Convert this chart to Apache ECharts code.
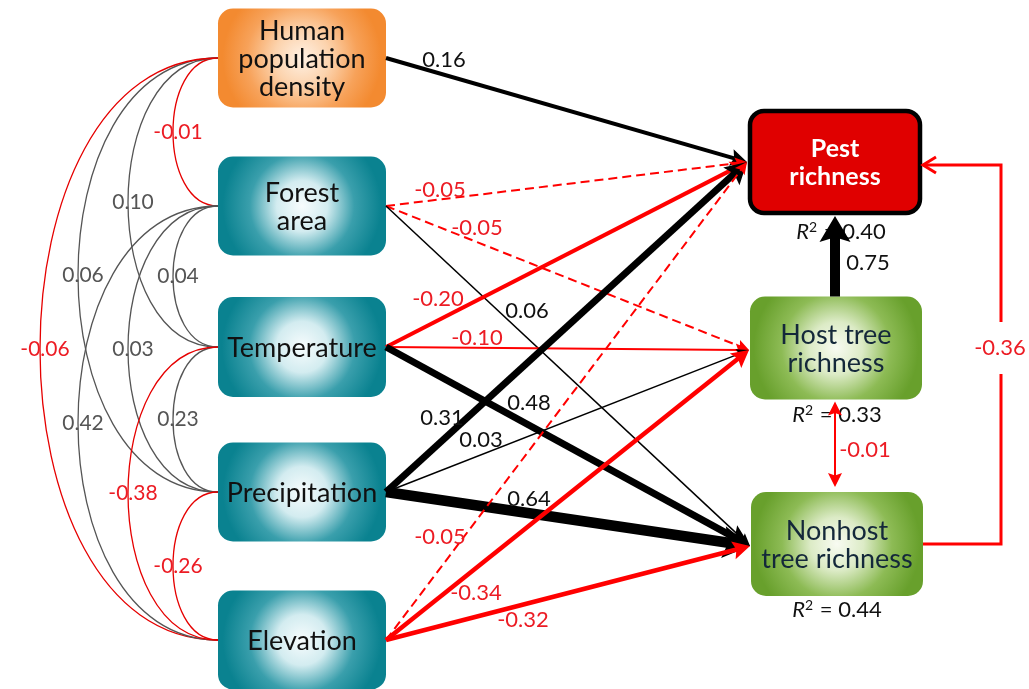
<!DOCTYPE html>
<html>
<head>
<meta charset="utf-8">
<script src="https://cdn.jsdelivr.net/npm/echarts@6/dist/echarts.min.js"></script>
<style>
  html, body { margin: 0; padding: 0; background: #ffffff; }
  #chart { width: 1029px; height: 689px; }
</style>
</head>
<body>
<div id="chart"></div>
<script>
// ---- Model variables ----
const nodeNames = ['Human population density', 'Forest area', 'Temperature', 'Precipitation', 'Elevation',
                   'Pest richness', 'Host tree richness', 'Nonhost tree richness'];
const nodeTexts = ['Human\npopulation\ndensity', 'Forest\narea', 'Temperature', 'Precipitation', 'Elevation',
                   'Pest\nrichness', 'Host tree\nrichness', 'Nonhost\ntree richness'];
const nodeGroups = ['human', 'environment', 'environment', 'environment', 'environment', 'pest', 'trees', 'trees'];

// ---- Explained variance of the responses ----
const r2Nodes = ['Pest richness', 'Host tree richness', 'Nonhost tree richness'];
const r2Values = [0.40, 0.33, 0.44];

// ---- Directed paths (standardised coefficients) ----
const pathFrom = ['Human population density', 'Forest area', 'Forest area', 'Forest area',
                  'Temperature', 'Temperature', 'Temperature',
                  'Precipitation', 'Precipitation', 'Precipitation',
                  'Elevation', 'Elevation', 'Elevation',
                  'Host tree richness', 'Nonhost tree richness'];
const pathTo = ['Pest richness', 'Pest richness', 'Host tree richness', 'Nonhost tree richness',
                'Pest richness', 'Host tree richness', 'Nonhost tree richness',
                'Pest richness', 'Host tree richness', 'Nonhost tree richness',
                'Pest richness', 'Host tree richness', 'Nonhost tree richness',
                'Pest richness', 'Pest richness'];
const pathCoef = [0.16, -0.05, -0.05, 0.06,
                  -0.20, -0.10, 0.48,
                  0.31, 0.03, 0.64,
                  -0.05, -0.34, -0.32,
                  0.75, -0.36];
const pathNonSignificant = [false, true, true, false,
                            false, false, false,
                            false, false, false,
                            true, false, false,
                            false, false];

// ---- Correlations between exogenous variables ----
const corrA = ['Human population density', 'Human population density', 'Human population density', 'Human population density',
               'Forest area', 'Forest area', 'Forest area',
               'Temperature', 'Temperature', 'Precipitation'];
const corrB = ['Forest area', 'Temperature', 'Precipitation', 'Elevation',
               'Temperature', 'Precipitation', 'Elevation',
               'Precipitation', 'Elevation', 'Elevation'];
const corrCoef = [-0.01, 0.10, 0.06, -0.06,
                  0.04, 0.03, 0.42,
                  0.23, -0.38, -0.26];

// ---- Residual correlation between the tree responses ----
const residA = ['Host tree richness'];
const residB = ['Nonhost tree richness'];
const residCoef = [-0.01];

// ---- Layout (pixel positions on a 1029 x 689 canvas) ----
const boxLayout = {
  'Human population density': { cx: 302, cy: 58, w: 168, h: 99 },
  'Forest area':              { cx: 302, cy: 206, w: 168, h: 99 },
  'Temperature':              { cx: 302, cy: 347, w: 168, h: 100 },
  'Precipitation':            { cx: 302, cy: 492, w: 168, h: 99 },
  'Elevation':                { cx: 302, cy: 640, w: 168, h: 99 },
  'Pest richness':            { cx: 835, cy: 162, w: 174, h: 106 },
  'Host tree richness':       { cx: 836, cy: 348, w: 172, h: 103 },
  'Nonhost tree richness':    { cx: 837, cy: 544, w: 172, h: 104 }
};
const arcBulge = [0, 45, 90, 140, 178];     // leftward reach of a correlation arc by rows spanned
const elbowX = 1001;                          // vertical run of the nonhost -> pest path
const pathWidth = [4, 2, 2, 1.5, 4, 2, 7, 7, 1.5, 10.5, 2, 4.5, 4.5, 10, 3];
const pathLabelAt = [[444, 60], [440, 190], [477, 228], [527, 311],
                     [438, 299], [477, 338], [529, 403],
                     [442, 418], [481, 440], [529, 499],
                     [440, 537], [476, 593], [523, 620],
                     [868, 263], [1000, 348]];
const r2LabelAt = [[841, 232], [837, 415], [837, 610]];

const RED = '#ff0000';
const RED_TEXT = '#ec1c24';
const BLACK = '#000000';
const GRAY = '#555555';
const FONT = 'Lato, "Open Sans", sans-serif';

const fills = {
  human: new echarts.graphic.RadialGradient(0.5, 0.5, 0.8, [
    { offset: 0, color: '#fff1e4' }, { offset: 0.35, color: '#fcd3ad' },
    { offset: 0.7, color: '#f7a25a' }, { offset: 1, color: '#f38a30' }]),
  environment: new echarts.graphic.RadialGradient(0.5, 0.5, 0.8, [
    { offset: 0, color: '#f7fcfd' }, { offset: 0.32, color: '#d3ecf0' },
    { offset: 0.66, color: '#3a9fac' }, { offset: 1, color: '#0a8290' }]),
  trees: new echarts.graphic.RadialGradient(0.5, 0.5, 0.8, [
    { offset: 0, color: '#f8fbf2' }, { offset: 0.32, color: '#dcebc6' },
    { offset: 0.66, color: '#8dbb55' }, { offset: 1, color: '#68a02c' }]),
  pest: '#e00000'
};

function rightPort(n) { const b = boxLayout[n]; return [b.cx + b.w / 2, b.cy]; }
function leftPort(n) { const b = boxLayout[n]; return [b.cx - b.w / 2, b.cy]; }
function topPort(n) { const b = boxLayout[n]; return [b.cx, b.cy - b.h / 2]; }
function bottomPort(n) { const b = boxLayout[n]; return [b.cx, b.cy + b.h / 2]; }

// filled, slightly notched arrow head whose tip sits on `tip`
function arrowHead(api, tip, from, len, hw, color) {
  const t = api.coord(tip), f = api.coord(from);
  const dx = t[0] - f[0], dy = t[1] - f[1], d = Math.hypot(dx, dy);
  const ux = dx / d, uy = dy / d, px = -uy, py = ux;
  const bx = t[0] - ux * len, by = t[1] - uy * len;
  const nx = t[0] - ux * len * 0.82, ny = t[1] - uy * len * 0.82;
  return {
    shape: { type: 'polygon', shape: { points: [t, [bx + px * hw, by + py * hw], [nx, ny], [bx - px * hw, by - py * hw]] },
             style: { fill: color } },
    neck: [t[0] - ux * len * 0.75, t[1] - uy * len * 0.75]
  };
}

const chart = echarts.init(document.getElementById('chart'), null, { renderer: 'canvas' });

const option = {
  animation: false,
  backgroundColor: '#ffffff',
  grid: { left: 0, right: 0, top: 0, bottom: 0 },
  xAxis: { type: 'value', min: 0, max: 1029, show: false },
  yAxis: { type: 'value', min: 0, max: 689, inverse: true, show: false },
  series: [
    // correlation arcs on the left
    {
      type: 'custom',
      name: 'correlations',
      coordinateSystem: 'cartesian2d',
      silent: true,
      data: corrCoef.map((c, i) => [i, 0]),
      renderItem: function (params, api) {
        const i = params.dataIndex;
        const a = leftPort(corrA[i]), b = leftPort(corrB[i]);
        const span = nodeNames.indexOf(corrB[i]) - nodeNames.indexOf(corrA[i]);
        const bulge = arcBulge[span];
        const p1 = api.coord(a), p2 = api.coord(b);
        const cx = p1[0] - bulge * 4 / 3;
        const color = corrCoef[i] < 0 ? '#e60000' : GRAY;
        const midX = p1[0] - bulge, midY = (p1[1] + p2[1]) / 2;
        return {
          type: 'group',
          children: [
            { type: 'bezierCurve',
              shape: { x1: p1[0], y1: p1[1], x2: p2[0], y2: p2[1], cpx1: cx, cpy1: p1[1], cpx2: cx, cpy2: p2[1] },
              style: { stroke: color, lineWidth: 1.3, fill: null } },
            { type: 'text', x: midX + 5, y: midY,
              style: { text: corrCoef[i].toFixed(2), font: '21px ' + FONT, fill: corrCoef[i] < 0 ? RED_TEXT : '#555555',
                       align: 'center', verticalAlign: 'middle' } }
          ]
        };
      }
    },
    // variable boxes
    {
      type: 'custom',
      name: 'variables',
      coordinateSystem: 'cartesian2d',
      silent: true,
      data: nodeNames.map((n, i) => [i, 0]),
      renderItem: function (params, api) {
        const i = params.dataIndex;
        const b = boxLayout[nodeNames[i]];
        const tl = api.coord([b.cx - b.w / 2, b.cy - b.h / 2]);
        const c = api.coord([b.cx, b.cy]);
        const group = nodeGroups[i];
        const isPest = group === 'pest';
        const textColor = isPest ? '#ffffff' : (group === 'trees' ? '#14283a' : '#111111');
        return {
          type: 'group',
          children: [
            { type: 'rect',
              shape: { x: tl[0] + (isPest ? 2 : 0), y: tl[1] + (isPest ? 2 : 0),
                       width: b.w - (isPest ? 4 : 0), height: b.h - (isPest ? 4 : 0), r: isPest ? 14 : 15 },
              style: { fill: fills[group], stroke: isPest ? '#000000' : null, lineWidth: isPest ? 4.5 : 0 } },
            { type: 'text', x: c[0], y: c[1] + 1,
              style: { text: nodeTexts[i], font: (isPest ? 'bold 25px ' : '27px ') + FONT, fill: textColor,
                       align: 'center', verticalAlign: 'middle', lineHeight: isPest ? 28 : 28 } }
          ]
        };
      }
    },
    // R squared of the responses
    {
      type: 'custom',
      name: 'r2',
      coordinateSystem: 'cartesian2d',
      silent: true,
      data: r2Values.map((v, i) => [i, v]),
      renderItem: function (params, api) {
        const i = params.dataIndex;
        const p = api.coord(r2LabelAt[i]);
        return {
          type: 'text', x: p[0], y: p[1],
          style: {
            text: '{i|R}{s|2}{n| = ' + r2Values[i].toFixed(2) + '}',
            align: 'center', verticalAlign: 'middle',
            rich: {
              i: { font: 'italic 22px ' + FONT, fill: '#111111' },
              s: { font: '14px ' + FONT, fill: '#111111', padding: [0, 1, 10, 0] },
              n: { font: '22px ' + FONT, fill: '#111111' }
            }
          }
        };
      }
    },
    // directed paths
    {
      type: 'custom',
      name: 'paths',
      coordinateSystem: 'cartesian2d',
      silent: true,
      data: pathCoef.map((c, i) => [i, c]),
      renderItem: function (params, api) {
        const i = params.dataIndex;
        const from = pathFrom[i], to = pathTo[i], coef = pathCoef[i];
        const color = coef < 0 ? RED : BLACK;
        const w = pathWidth[i];
        const dash = pathNonSignificant[i] ? [9, 5] : null;
        const fromCol = nodeGroups[nodeNames.indexOf(from)];
        const children = [];
        if (fromCol === 'trees' && from === 'Host tree richness') {
          // vertical path into the bottom of the pest box
          const tipPt = bottomPort(to);
          const s = [tipPt[0], topPort(from)[1]];
          const tip = [tipPt[0], tipPt[1] + 1];
          const head = arrowHead(api, tip, s, 10 + 1.6 * w, 4 + 1.15 * w, color);
          const s0 = api.coord(s);
          children.push({ type: 'line', shape: { x1: s0[0], y1: s0[1], x2: head.neck[0], y2: head.neck[1] },
                          style: { stroke: color, lineWidth: w } });
          children.push(head.shape);
        } else if (fromCol === 'trees') {
          // elbow path round the right-hand side, open arrow head
          const s = rightPort(from), e = rightPort(to);
          const pts = [s, [elbowX, s[1]], [elbowX, e[1] + 3], [e[0] + 1, e[1] + 3]].map(p => api.coord(p));
          children.push({ type: 'polyline', shape: { points: pts }, style: { stroke: color, lineWidth: w, fill: null } });
          const t = pts[3];
          children.push({ type: 'polyline', shape: { points: [[t[0] + 13, t[1] - 8], t, [t[0] + 13, t[1] + 8]] },
                          style: { stroke: color, lineWidth: w, fill: null } });
        } else {
          const s = rightPort(from);
          const tgt = leftPort(to);
          const tip = [tgt[0] - 1, tgt[1] + (to === 'Pest richness' ? 0 : 2)];
          const len = pathNonSignificant[i] ? 12 : 10 + 1.6 * w;
          const hw = pathNonSignificant[i] ? 6 : 4 + 1.15 * w;
          const head = arrowHead(api, tip, s, len, hw, color);
          const s0 = api.coord(s);
          children.push({ type: 'line', shape: { x1: s0[0], y1: s0[1], x2: head.neck[0], y2: head.neck[1] },
                          style: { stroke: color, lineWidth: w, lineDash: dash } });
          children.push(head.shape);
        }
        const lp = api.coord(pathLabelAt[i]);
        const isElbow = fromCol === 'trees' && from !== 'Host tree richness';
        children.push({
          type: 'text', x: lp[0], y: lp[1],
          style: { text: coef.toFixed(2), font: '22px ' + FONT, fill: coef < 0 ? RED_TEXT : '#111111',
                   align: 'center', verticalAlign: 'middle',
                   backgroundColor: isElbow ? '#ffffff' : null, padding: isElbow ? [15, 2] : 0 }
        });
        return { type: 'group', children: children };
      }
    },
    // residual correlation between host and nonhost tree richness
    {
      type: 'custom',
      name: 'residual',
      coordinateSystem: 'cartesian2d',
      silent: true,
      data: residCoef.map((c, i) => [i, c]),
      renderItem: function (params, api) {
        const i = params.dataIndex;
        const a = bottomPort(residA[i]), b = topPort(residB[i]);
        const x = a[0] - 1;
        const top = [x, a[1] + 2], bot = [x, b[1] - 5];
        const color = residCoef[i] < 0 ? RED : BLACK;
        const h1 = arrowHead(api, top, bot, 14, 7, color);
        const h2 = arrowHead(api, bot, top, 14, 7, color);
        return {
          type: 'group',
          children: [
            { type: 'line', shape: { x1: h1.neck[0], y1: h1.neck[1], x2: h2.neck[0], y2: h2.neck[1] },
              style: { stroke: color, lineWidth: 2 } },
            h1.shape, h2.shape,
            { type: 'text', x: api.coord([x + 30, 0])[0], y: api.coord([0, (a[1] + b[1]) / 2 + 4])[1],
              style: { text: residCoef[i].toFixed(2), font: '22px ' + FONT, fill: RED_TEXT,
                       align: 'center', verticalAlign: 'middle' } }
          ]
        };
      }
    }
  ]
};

chart.setOption(option);
</script>
</body>
</html>
